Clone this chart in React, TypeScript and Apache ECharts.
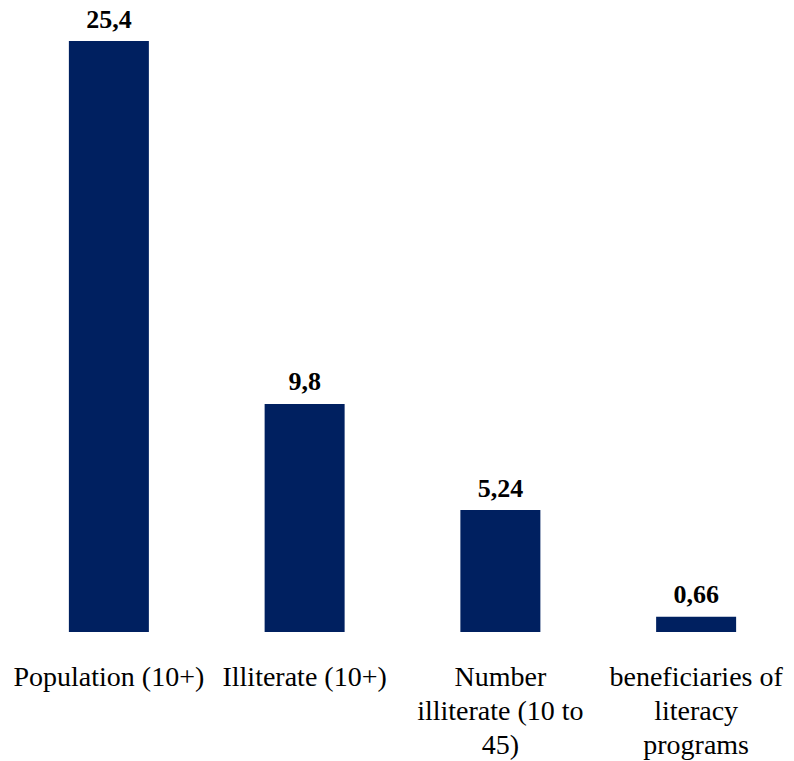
import React, { useEffect, useRef } from "react";
import * as echarts from "echarts";

const categories = [
  "Population (10+)",
  "Illiterate (10+)",
  "Number\nilliterate (10 to\n45)",
  "beneficiaries of\nliteracy\nprograms",
];
const values = [25.4, 9.8, 5.24, 0.66];

export default function App() {
  const ref = useRef<HTMLDivElement>(null);
  useEffect(() => {
    if (!ref.current) return;
    const chart = echarts.init(ref.current, undefined, { renderer: "svg" });
    chart.setOption({
      animation: false,
      grid: { left: 11, width: 789, top: 41, height: 593, containLabel: false },
      xAxis: {
        type: "category",
        data: categories,
        axisLine: { show: false },
        axisTick: { show: false },
        axisLabel: {
          interval: 0,
          margin: 27,
          fontFamily: "Liberation Serif",
          fontSize: 28,
          lineHeight: 34,
          color: "#000",
          verticalAlign: "top",
        },
      },
      yAxis: {
        type: "value",
        min: 0,
        max: 25.4,
        show: false,
        splitLine: { show: false },
      },
      series: [
        {
          type: "bar",
          data: values,
          barWidth: 80,
          itemStyle: { color: "#002060" },
          label: {
            show: true,
            position: "top",
            distance: 9,
            fontFamily: "Liberation Serif",
            fontWeight: "bold",
            fontSize: 26,
            color: "#000",
            formatter: (p: any) => String(p.value).replace(".", ","),
          },
        },
      ],
    });
    return () => chart.dispose();
  }, []);
  return (
    <div
      ref={ref}
      style={{ position: "fixed", left: 0, top: 0, width: 794, height: 761, background: "#fff" }}
    />
  );
}
